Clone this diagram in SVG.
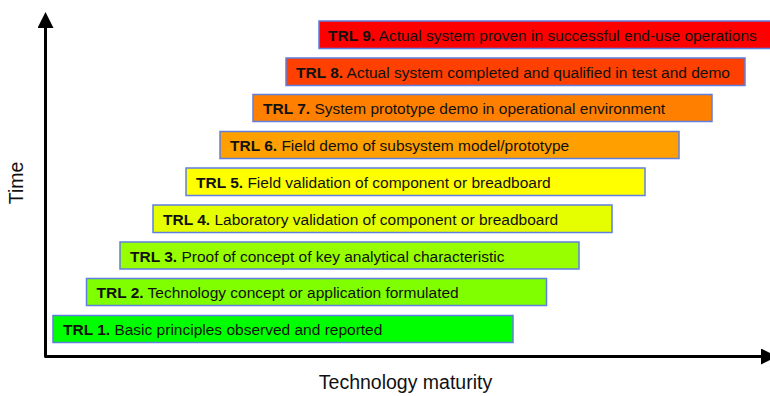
<svg xmlns="http://www.w3.org/2000/svg" width="770" height="396" viewBox="0 0 770 396">
<defs>
<marker id="ah" viewBox="0 0 16 16" refX="1" refY="8" markerWidth="16" markerHeight="16" markerUnits="userSpaceOnUse" orient="auto">
<path d="M0,0 L16,8 L0,16 Z" fill="#000"/>
</marker>
</defs>
<style>
.box{stroke:#5F7FE0;stroke-width:1.5}
.lbl{font-family:"Liberation Sans",Arial,sans-serif;font-size:15.5px;fill:#111}
.b{font-weight:bold}
.ax{font-family:"Liberation Sans",Arial,sans-serif;font-size:19.5px;fill:#111}
</style>
<rect width="770" height="396" fill="#fff"/>
<g id="connectors">
<path d="M45.5,28 L45.5,356.5 L761,356.5" fill="none" stroke="#000" stroke-width="3" stroke-linejoin="round"/>
<path d="M45.5,28 L45.5,27" fill="none" stroke="#000" stroke-width="3" marker-end="url(#ah)"/>
<path d="M761,356.5 L762,356.5" fill="none" stroke="#000" stroke-width="3" marker-end="url(#ah)"/>
</g>
<g id="trl1"><rect class="box" x="53" y="315.5" width="460" height="27" fill="#00FF00"/><text class="lbl" x="63" y="335"><tspan class="b">TRL 1.</tspan> Basic principles observed and reported</text></g>
<g id="trl2"><rect class="box" x="86.5" y="278.5" width="460" height="27" fill="#80FF00"/><text class="lbl" x="96.5" y="298"><tspan class="b">TRL 2.</tspan> Technology concept or application formulated</text></g>
<g id="trl3"><rect class="box" x="120" y="242" width="459" height="27" fill="#98FF00"/><text class="lbl" x="130" y="261.5"><tspan class="b">TRL 3.</tspan> Proof of concept of key analytical characteristic</text></g>
<g id="trl4"><rect class="box" x="153" y="205" width="459" height="27.5" fill="#E6FF00"/><text class="lbl" x="163" y="225"><tspan class="b">TRL 4.</tspan> Laboratory validation of component or breadboard</text></g>
<g id="trl5"><rect class="box" x="186" y="168" width="459" height="27.5" fill="#FFFF00"/><text class="lbl" x="196" y="188"><tspan class="b">TRL 5.</tspan> Field validation of component or breadboard</text></g>
<g id="trl6"><rect class="box" x="220" y="131.5" width="459" height="27" fill="#FFA000"/><text class="lbl" x="230" y="151"><tspan class="b">TRL 6.</tspan> Field demo of subsystem model/prototype</text></g>
<g id="trl7"><rect class="box" x="253" y="94.5" width="459" height="27" fill="#FF8000"/><text class="lbl" x="263" y="114"><tspan class="b">TRL 7.</tspan> System prototype demo in operational environment</text></g>
<g id="trl8"><rect class="box" x="286" y="58" width="459" height="27.5" fill="#FF4000"/><text class="lbl" x="296" y="78"><tspan class="b">TRL 8.</tspan> Actual system completed and qualified in test and demo</text></g>
<g id="trl9"><rect class="box" x="319" y="21" width="460" height="27.5" fill="#FF0000"/><text class="lbl" x="328" y="41"><tspan class="b">TRL 9.</tspan> Actual system proven in successful end-use operations</text></g>
<text class="ax" x="405.5" y="389" text-anchor="middle">Technology maturity</text>
<text class="ax" transform="translate(23,183) rotate(-90)" text-anchor="middle">Time</text>
</svg>
